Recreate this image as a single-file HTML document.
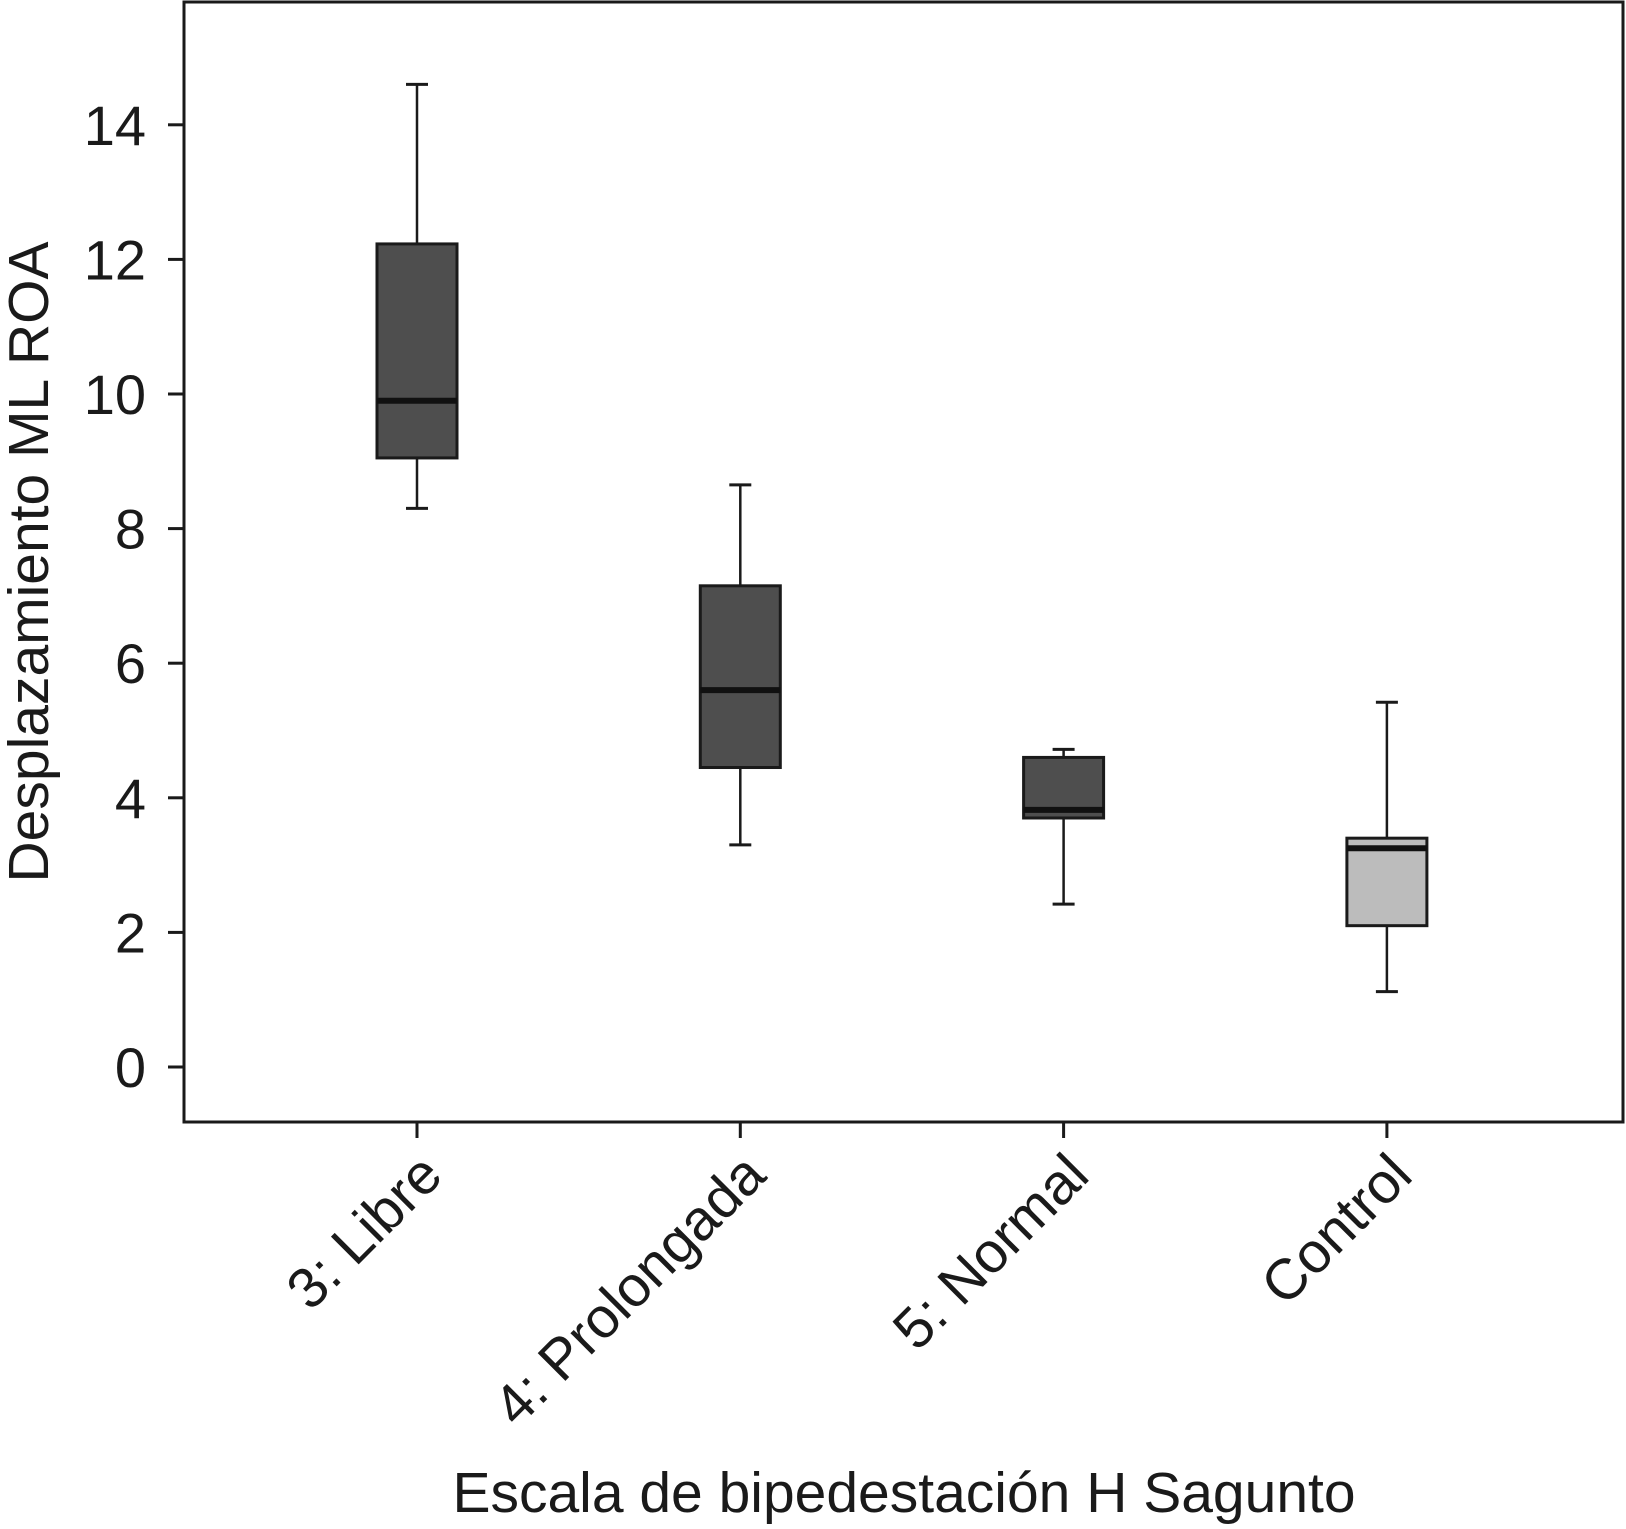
<!DOCTYPE html>
<html><head><meta charset="utf-8"><style>
html,body{margin:0;padding:0;background:#fff;}
svg{display:block;font-family:"Liberation Sans",Arial,sans-serif;}
</style></head><body>
<svg id="chart" width="1626" height="1529" viewBox="0 0 1626 1529"></svg>
<script>
const categories = ["3: Libre","4: Prolongada","5: Normal","Control"];
const whiskerHigh = [14.6, 8.65, 4.72, 5.42];
const q3 = [12.23, 7.15, 4.6, 3.4];
const median = [9.9, 5.6, 3.82, 3.25];
const q1 = [9.05, 4.45, 3.7, 2.1];
const whiskerLow = [8.3, 3.3, 2.42, 1.12];
const fills = ["#4e4e4e","#4e4e4e","#4e4e4e","#bcbcbc"];
const yTicks = [0,2,4,6,8,10,12,14];

const NS="http://www.w3.org/2000/svg";
const svg=document.getElementById('chart');
const L=184,R=1623,T=2,B=1122;
const y0=1067, pxPerUnit=67.3;
function y(v){return y0-v*pxPerUnit;}
function x(i){return 417+i*323.3;}
function el(tag,attrs,parent){const e=document.createElementNS(NS,tag);for(const k in attrs)e.setAttribute(k,attrs[k]);(parent||svg).appendChild(e);return e;}

const frame=el('rect',{x:L,y:T,width:R-L,height:B-T,fill:'none',stroke:'#1a1a1a','stroke-width':3});



yTicks.forEach(t=>{
  const tk=el('line',{x1:L-16,x2:L,y1:y(t),y2:y(t),stroke:'#1a1a1a','stroke-width':3});
  
  
  const tx=el('text',{x:146,y:y(t)+20,'text-anchor':'end','font-size':56,fill:'#1a1a1a'});
  tx.textContent=t;
  
  
});

const hw=40, capw=16;
categories.forEach((c,i)=>{
  const cx=x(i);
  const g=el('g',{});
  
  
  el('line',{x1:cx,x2:cx,y1:y(whiskerHigh[i]),y2:y(q3[i]),stroke:'#1a1a1a','stroke-width':2.5},g);
  el('line',{x1:cx,x2:cx,y1:y(q1[i]),y2:y(whiskerLow[i]),stroke:'#1a1a1a','stroke-width':2.5},g);
  el('line',{x1:cx-capw/2-3,x2:cx+capw/2+3,y1:y(whiskerHigh[i]),y2:y(whiskerHigh[i]),stroke:'#1a1a1a','stroke-width':3},g);
  el('line',{x1:cx-capw/2-3,x2:cx+capw/2+3,y1:y(whiskerLow[i]),y2:y(whiskerLow[i]),stroke:'#1a1a1a','stroke-width':3},g);
  el('rect',{x:cx-hw,y:y(q3[i]),width:2*hw,height:y(q1[i])-y(q3[i]),fill:fills[i],stroke:'#1a1a1a','stroke-width':3},g);
  el('line',{x1:cx-hw,x2:cx+hw,y1:y(median[i]),y2:y(median[i]),stroke:'#111','stroke-width':6},g);
  const tk=el('line',{x1:cx,x2:cx,y1:B,y2:B+16,stroke:'#1a1a1a','stroke-width':3});
  
  
  const ax=cx+28, ay=1178;
  const tx=el('text',{x:ax,y:ay,'text-anchor':'end','font-size':57,fill:'#1a1a1a',transform:`rotate(-45 ${ax} ${ay})`});
  tx.textContent=c;
  
  
});

const yt=el('text',{x:48,y:562,'text-anchor':'middle','font-size':57,fill:'#1a1a1a',transform:'rotate(-90 48 562)'});
yt.textContent='Desplazamiento ML ROA';


const xt=el('text',{x:904,y:1512,'text-anchor':'middle','font-size':57,fill:'#1a1a1a'});
xt.textContent='Escala de bipedestación H Sagunto';


</script>
</body></html>
